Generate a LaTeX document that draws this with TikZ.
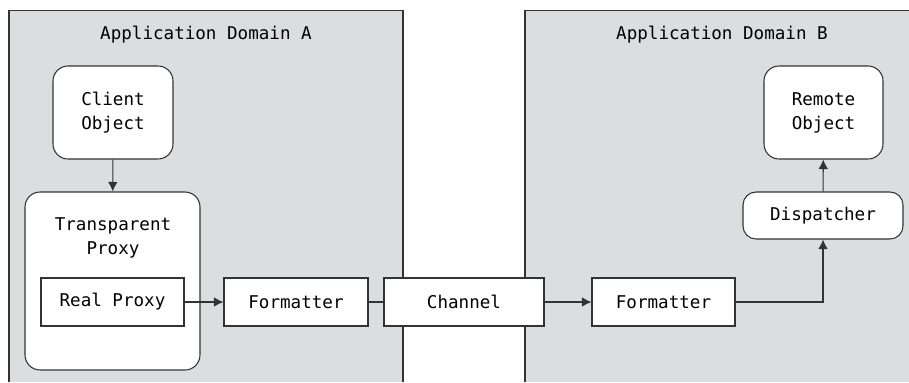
\documentclass[tikz,border=0pt]{standalone}
\usepackage{fontspec}
\setmonofont{DejaVu Sans Mono}
\usepackage{tikz}
\usetikzlibrary{arrows.meta,positioning}
\definecolor{dmgray}{HTML}{DCDDDF}
\definecolor{lnline}{HTML}{333333}

\begin{document}
\begin{tikzpicture}[
  x=0.02cm,
  y=-0.02cm,
  font=\ttfamily\fontsize{10}{13.6}\selectfont,
  obj/.style={rectangle, rounded corners=3mm, draw=lnline, line width=0.6pt, fill=white, align=center, inner sep=0pt},
  part/.style={rectangle, draw=lnline, line width=0.6pt, fill=white, align=center, minimum height=0.96cm, inner sep=0pt},
  flow/.style={-{Latex[length=1.9mm, width=1.9mm]}, draw=lnline, line width=0.6pt},
  lnk/.style={draw=lnline, line width=0.6pt}
]
  \useasboundingbox (0,0) rectangle (909,382);
  % the two domains
  \fill[dmgray] (9,10.7) rectangle (403,382);
  \draw[lnk] (9,382) -- (9,10.7) -- (403,10.7) -- (403,382);
  \fill[dmgray] (525,10.7) rectangle (909,382);
  \draw[lnk] (525,382) -- (525,10.7) -- (909,10.7);
  \node (titleA) at (206,35) {Application Domain A};
  \node (titleB) at (722,35) {Application Domain B};

  \node[obj, minimum width=2.4cm, minimum height=1.86cm] (client) at (113,112.5) {Client\\Object};
  \node[obj, minimum width=3.5cm, minimum height=3.56cm] (tproxy) at (112.5,281) {};
  \node[align=center] (tproxylbl) at (113,238) {Transparent\\Proxy};
  \node[part, minimum width=2.86cm] (realproxy) at (112.5,302) {Real Proxy};
  \node[part, minimum width=2.88cm] (fmtA) at (296,302) {Formatter};
  \node[part, minimum width=3.2cm] (channel) at (464,302) {Channel};
  \node[part, minimum width=2.86cm] (fmtB) at (663.5,302) {Formatter};
  \node[obj, minimum width=2.38cm, minimum height=1.86cm] (remote) at (823.5,112.5) {Remote\\Object};
  \node[obj, rounded corners=2.6mm, minimum width=3.2cm, minimum height=0.94cm] (disp) at (823,215.5) {Dispatcher};

  \draw[flow] (client) -- (tproxy);
  \draw[flow] (realproxy) -- (fmtA);
  \draw[lnk] (fmtA) -- (channel);
  \draw[flow] (channel) -- (fmtB);
  \draw[flow] (fmtB.east) -| (disp.south);
  \draw[flow] (disp) -- (remote);
\end{tikzpicture}
\end{document}
